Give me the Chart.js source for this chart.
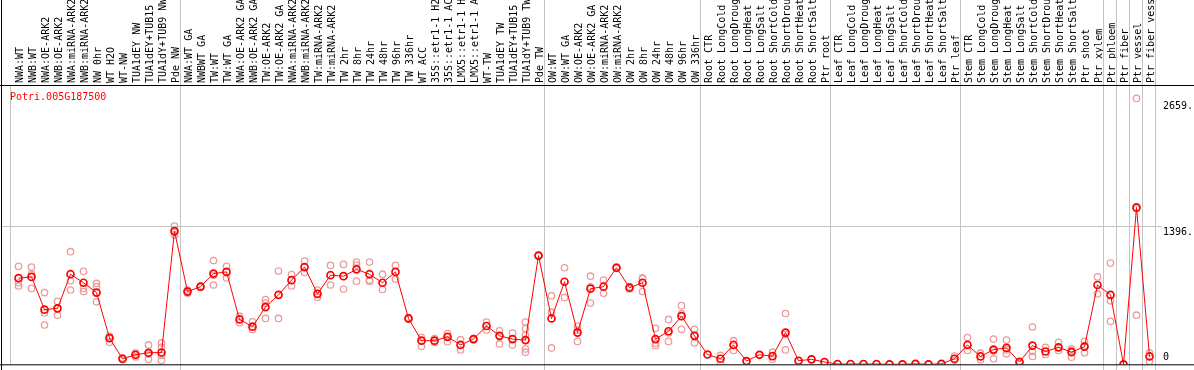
<!DOCTYPE html>
<html>
<head>
<meta charset="utf-8">
<script src="https://cdn.jsdelivr.net/npm/chart.js@4.4.1/dist/chart.umd.min.js"></script>
<style>
html,body{margin:0;padding:0;background:#fff;overflow:hidden}
#wrap{width:1194px;height:370px;position:relative}
</style>
</head>
<body>
<div id="wrap"><canvas id="c"></canvas></div>
<script>
// ---------- data ----------
const categories = [
  'NWA:WT','NWB:WT','NWA:OE-ARK2','NWB:OE-ARK2','NWA:miRNA-ARK2','NWB:miRNA-ARK2','NW 0hr','WT H2O','WT-NW','TUA1dEY NW','TUA1dEY+TUB15 NW','TUA1dY+TUB9 NW','Pde NW',
  'NWA:WT GA','NWBWT GA','TW:WT','TW:WT GA','NWA:OE-ARK2 GA','NWB:OE-ARK2 GA','TW:OE-ARK2','TW:OE-ARK2 GA','NWA:miRNA-ARK2 GA','NWB:miRNA-ARK2 GA','TW:miRNA-ARK2','TW:miRNA-ARK2 GA',
  'TW 2hr','TW 8hr','TW 24hr','TW 48hr','TW 96hr','TW 336hr','WT ACC','35S::etr1-1 H2O','35S::etr1-1 ACC','LMX5::etr1-1 H2O','LMX5::etr1-1 ACC','WT-TW','TUA1dEY TW','TUA1dEY+TUB15 TW','TUA1dY+TUB9 TW','Pde TW',
  'OW:WT','OW:WT GA','OW:OE-ARK2','OW:OE-ARK2 GA','OW:miRNA-ARK2','OW:miRNA-ARK2 GA','OW 2hr','OW 8hr','OW 24hr','OW 48hr','OW 96hr','OW 336hr',
  'Root CTR','Root LongCold','Root LongDrought','Root LongHeat','Root LongSalt','Root ShortCold','Root ShortDrought','Root ShortHeat','Root ShortSalt','Ptr root',
  'Leaf CTR','Leaf LongCold','Leaf LongDrought','Leaf LongHeat','Leaf LongSalt','Leaf ShortCold','Leaf ShortDrought','Leaf ShortHeat','Leaf ShortSalt','Ptr leaf',
  'Stem CTR','Stem LongCold','Stem LongDrought','Stem LongHeat','Stem LongSalt','Stem ShortCold','Stem ShortDrought','Stem ShortHeat','Stem ShortSalt','Ptr shoot','Ptr xylem',
  'Ptr phloem','Ptr fiber','Ptr vessel','Ptr fiber vessel'
];

const meanValues = [
  868, 881, 551, 564, 908, 822, 723, 264, 56, 96, 116, 119, 1343,
  733, 782, 914, 931, 452, 379, 577, 700, 848, 980, 710, 898,
  888, 957, 908, 822, 931, 462, 238, 238, 277, 195, 254, 386, 287, 254, 244, 1096,
  462, 832, 320, 762, 782, 973, 772, 822, 254, 333, 485, 287,
  99, 56, 195, 33, 96, 82, 320, 36, 50, 23,
  3, 3, 3, 3, 0, 0, 5, 0, 5, 56,
  195, 79, 148, 165, 23, 188, 129, 171, 122, 178, 799,
  700, 0, 1581, 79
];

const replicateValues = [
  [987, 822, 789], [980, 908, 765], [723, 518, 396], [634, 495, 563], [1135, 841, 749], [937, 765, 733], [815, 782, 630], [221, 285], [66, 46], [115, 74], [195, 50, 103], [215, 171, 89, 40], [1393, 1304, 1330],
  [749, 716], [789, 775], [1046, 799, 897], [987, 871], [485, 419], [429, 350], [617, 462, 652], [940, 462], [904, 789], [1040, 924], [749, 676], [997, 799],
  [1007, 759], [1030, 838, 1000], [1030, 848, 838], [908, 755], [997, 858], [470, 455], [270, 181], [260, 220], [310, 228], [248, 145], [260, 248], [426, 346], [337, 205], [314, 195], [426, 360, 294, 155, 122], [1100, 1092],
  [690, 525, 165], [973, 673], [386, 231, 343], [888, 617, 780], [848, 716], [980, 966], [782, 762], [871, 733, 862], [363, 188, 211], [452, 231, 316], [591, 353, 511], [353, 215, 293],
  [99], [89, 23], [238, 139], [30], [96], [122, 50], [512, 145, 303], [36], [50], [23],
  [3], [3], [3], [3], [0], [0], [5], [0], [5], [82, 40],
  [270, 139], [112, 46], [254, 56, 135], [244, 106, 145], [33, 13], [376, 129, 79], [171, 100], [221, 140], [155, 72, 140], [231, 116, 187], [881, 710],
  [1020, 640, 433], [0], [2680, 495, 1568], [116, 30]
];

const yTickValues = [0, 1396, 2659];
const yTickLabels = ['0', '1396.', '2659.'];
const groupEndIndices = [12, 40, 52, 62, 72, 83, 84, 85, 86, 87];
const geneName = 'Potri.005G187500';
const yMax = 2815;

// ---------- chart ----------
const repPoints = [];
replicateValues.forEach((reps, i) => reps.forEach(v => repPoints.push({x: categories[i], y: v})));

const MONO = '"DejaVu Sans Mono", "Liberation Mono", monospace';

const framePlugin = {
  id: 'frame',
  beforeDatasetsDraw(chart) {
    const {ctx, chartArea, scales: {x, y}} = chart;
    const H = chart.height;
    const half = (x.getPixelForValue(1) - x.getPixelForValue(0)) / 2;
    ctx.save();
    ctx.strokeStyle = '#c4c4c4';
    ctx.lineWidth = 1;
    ctx.beginPath();
    groupEndIndices.forEach(i => {
      const px = Math.round(x.getPixelForValue(i) + half) - 0.5;
      ctx.moveTo(px, 0); ctx.lineTo(px, H);
    });
    const fx = Math.round(x.getPixelForValue(0) - half) - 1.5;
    ctx.moveTo(fx, chartArea.top); ctx.lineTo(fx, chartArea.bottom);
    const gy = Math.round(y.getPixelForValue(yTickValues[1])) + 0.5;
    ctx.moveTo(2, gy); ctx.lineTo(chartArea.right + 6, gy);
    ctx.stroke();
    ctx.restore();
  },
  afterDraw(chart) {
    const {ctx, chartArea, scales: {y}} = chart;
    const W = chart.width, H = chart.height;
    ctx.save();
    ctx.fillStyle = '#000';
    ctx.fillRect(1, 0, 1, H);
    ctx.fillRect(0, chartArea.top, W, 1);
    ctx.fillRect(0, chartArea.bottom, W, 1);
    ctx.font = '10px ' + MONO;
    ctx.textAlign = 'left';
    ctx.textBaseline = 'alphabetic';
    yTickValues.forEach((v, i) => {
      const py = y.getPixelForValue(v);
      const base = Math.min(py + 9, chartArea.bottom - 4);
      ctx.fillText(yTickLabels[i], chartArea.right + 7, base);
    });
    ctx.fillStyle = '#ff0000';
    ctx.fillText(geneName, 10, chartArea.top + 15);
    ctx.restore();
  }
};

new Chart(document.getElementById('c'), {
  type: 'line',
  data: {
    labels: categories,
    datasets: [
      {
        label: 'mean',
        data: meanValues,
        borderColor: '#ff0000',
        borderWidth: 1,
        pointStyle: 'circle',
        pointRadius: 3.5,
        pointBorderWidth: 1.7,
        pointBorderColor: '#ff0000',
        pointBackgroundColor: 'rgba(0,0,0,0)',
        tension: 0,
        order: 1
      },
      {
        label: 'replicates',
        data: repPoints,
        showLine: false,
        pointStyle: 'circle',
        pointRadius: 3.2,
        pointBorderWidth: 1.3,
        pointBorderColor: '#eb9c9c',
        pointBackgroundColor: 'rgba(0,0,0,0)',
        order: 2
      }
    ]
  },
  options: {
    responsive: true,
    maintainAspectRatio: false,
    animation: false,
    events: [],
    layout: {padding: {left: 12, right: 0, top: 0, bottom: 1}},
    plugins: {legend: {display: false}, tooltip: {enabled: false}},
    scales: {
      x: {
        type: 'category',
        position: 'top',
        offset: true,
        grid: {display: false, drawTicks: false},
        border: {display: false},
        ticks: {
          autoSkip: false,
          minRotation: 90,
          maxRotation: 90,
          padding: 2,
          labelOffset: 14,
          color: '#000',
          font: {family: MONO, size: 10}
        },
        afterFit(scale) { scale.height = 85; }
      },
      y: {
        position: 'right',
        min: 0,
        max: yMax,
        grid: {display: false},
        border: {display: false},
        ticks: {display: false},
        afterBuildTicks(scale) { scale.ticks = yTickValues.map(v => ({value: v})); },
        afterFit(scale) { scale.width = 38; }
      }
    }
  },
  plugins: [framePlugin]
});
</script>
</body>
</html>
